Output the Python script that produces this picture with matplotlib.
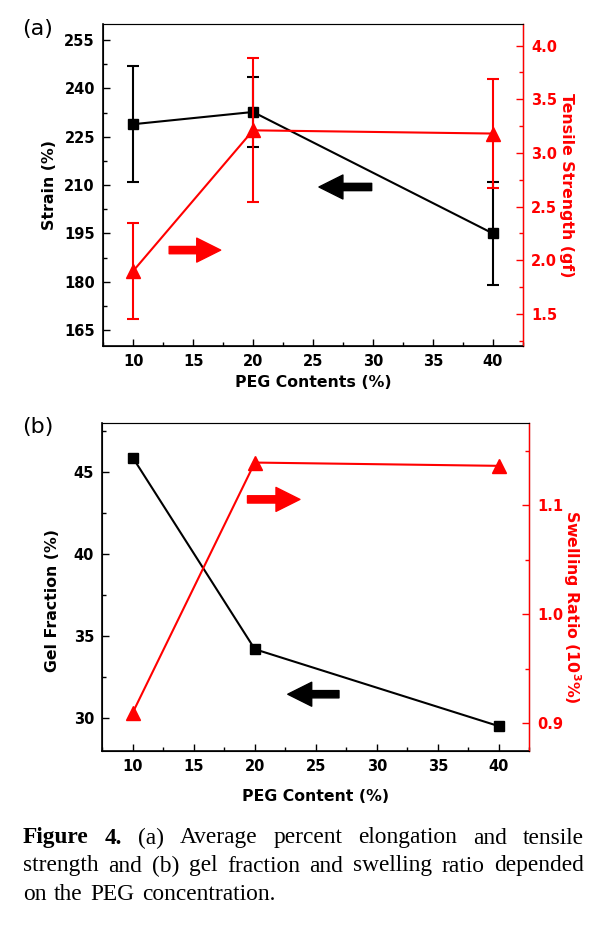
import matplotlib
matplotlib.use("Agg")
import matplotlib.pyplot as plt
from matplotlib.ticker import MultipleLocator

plt.rcParams["font.family"] = ["DejaVu Sans"]
plt.rcParams["mathtext.fontset"] = "dejavusans"

# ── data ──
peg = [10, 20, 40]
strain = [228.9, 232.7, 195.0]
strain_err = [18, 11, 16]
tensile = [1.90, 3.21, 3.18]
tensile_err = [0.45, 0.67, 0.51]

gel_fraction = [45.9, 34.2, 29.5]
swelling = [0.910, 1.139, 1.136]

RED = "#FF0000"
TICK_FS = 10.5
LABEL_FS = 11.3

fig = plt.figure(figsize=(6.05, 9.26), dpi=100)


def style_axes(ax, ax2):
    ax.xaxis.set_major_locator(MultipleLocator(5))
    ax.xaxis.set_minor_locator(MultipleLocator(2.5))
    ax.tick_params(axis="both", which="both", direction="in", width=1)
    ax.tick_params(axis="both", which="major", length=5, labelsize=TICK_FS, pad=6)
    ax.tick_params(axis="both", which="minor", length=3)
    ax.tick_params(axis="x", top=False, which="both")
    ax.tick_params(axis="y", right=False, which="both")
    for lab in ax.get_xticklabels() + ax.get_yticklabels():
        lab.set_fontweight("bold")
    for s in ["left", "bottom"]:
        ax.spines[s].set_linewidth(1.2)
    ax.spines["top"].set_color("#555555")
    ax2.spines["right"].set_color(RED)
    ax2.spines["right"].set_linewidth(1.0)
    ax2.tick_params(axis="y", which="both", direction="in", colors=RED, width=1)
    ax2.tick_params(axis="y", which="major", length=5, labelsize=TICK_FS, pad=6)
    ax2.tick_params(axis="y", which="minor", length=3)
    for lab in ax2.get_yticklabels():
        lab.set_fontweight("bold")


def arrow(ax, x0, x1, y, color):
    ax.annotate("", xy=(x1, y), xytext=(x0, y),
                arrowprops=dict(arrowstyle="simple,head_width=1.15,head_length=1.15,tail_width=0.35",
                                color=color, mutation_scale=15, shrinkA=0, shrinkB=0))


# ── (a) strain / tensile strength ──
ax = fig.add_axes([0.1707, 0.6263, 0.6932, 0.3477])
ax.errorbar(peg, strain, yerr=strain_err, color="black", marker="s", ms=7,
            lw=1.5, capsize=4, capthick=1.5, elinewidth=1.5)
ax.set_xlim(7.5, 42.5)
ax.set_ylim(160, 260)
ax.yaxis.set_major_locator(MultipleLocator(15))
ax.yaxis.set_minor_locator(MultipleLocator(7.5))
ax.set_yticks([165, 180, 195, 210, 225, 240, 255])
ax.set_xticks([10, 15, 20, 25, 30, 35, 40])
ax.set_xlabel("PEG Contents (%)", fontsize=LABEL_FS, fontweight="bold", labelpad=4)
ax.set_ylabel("Strain (%)", fontsize=LABEL_FS, fontweight="bold", labelpad=5)

ax2 = ax.twinx()
ax2.errorbar(peg, tensile, yerr=tensile_err, color=RED, marker="^", ms=10,
             lw=1.5, capsize=4, capthick=1.5, elinewidth=1.5)
ax2.set_ylim(1.2, 4.2)
ax2.yaxis.set_major_locator(MultipleLocator(0.5))
ax2.yaxis.set_minor_locator(MultipleLocator(0.25))
ax2.set_ylabel("Tensile Strength (gf)", fontsize=LABEL_FS, fontweight="bold",
               color=RED, rotation=270, labelpad=12)
style_axes(ax, ax2)
arrow(ax, 29.9, 25.5, 209.4, "black")
arrow(ax, 13.0, 17.3, 189.8, RED)
fig.text(0.036, 0.962, "(a)", fontsize=16)

# ── (b) gel fraction / swelling ratio ──
bx = fig.add_axes([0.1691, 0.1893, 0.7058, 0.3536])
bx.plot(peg, gel_fraction, color="black", marker="s", ms=7, lw=1.5)
bx.set_xlim(7.5, 42.5)
bx.set_ylim(28, 48)
bx.yaxis.set_major_locator(MultipleLocator(5))
bx.yaxis.set_minor_locator(MultipleLocator(2.5))
bx.set_xticks([10, 15, 20, 25, 30, 35, 40])
bx.set_xlabel("PEG Content (%)", fontsize=LABEL_FS, fontweight="bold", labelpad=11)
bx.set_ylabel("Gel Fraction (%)", fontsize=LABEL_FS, fontweight="bold")
bx.yaxis.set_label_coords(-0.099, 0.46)

bx2 = bx.twinx()
bx2.plot(peg, swelling, color=RED, marker="^", ms=10, lw=1.5)
bx2.set_ylim(0.875, 1.175)
bx2.yaxis.set_major_locator(MultipleLocator(0.1))
bx2.yaxis.set_minor_locator(MultipleLocator(0.05))
bx2.set_ylabel(r"Swelling Ratio (10$^\mathbf{3}$%)", fontsize=LABEL_FS, fontweight="bold",
               color=RED, rotation=270, va="center")
bx2.yaxis.set_label_coords(1.100, 0.44)
style_axes(bx, bx2)
arrow(bx, 19.4, 23.7, 43.35, RED)
arrow(bx, 26.9, 22.7, 31.45, "black")
fig.text(0.036, 0.532, "(b)", fontsize=16)

# ── caption, justified ──
cap_lines = [
    ["Figure", "4.", "(a)", "Average", "percent", "elongation", "and", "tensile"],
    ["strength", "and", "(b)", "gel", "fraction", "and", "swelling", "ratio", "depended"],
    ["on", "the", "PEG", "concentration."],
]
bold_words = {(0, 0), (0, 1)}
x_left, x_right = 23, 584
line_y = [838, 866, 894]
W, H = 605, 926

fig.canvas.draw()
renderer = fig.canvas.get_renderer()
for li, words in enumerate(cap_lines):
    texts = []
    for wi, w in enumerate(words):
        t = fig.text(0, 1 - line_y[li] / H, w, fontsize=16.8,
                     family=["Liberation Serif", "DejaVu Serif"],
                     fontweight="bold" if (li, wi) in bold_words else "normal",
                     va="center", ha="left")
        texts.append(t)
    widths = [t.get_window_extent(renderer).width for t in texts]
    if li < len(cap_lines) - 1:
        gap = (x_right - x_left - sum(widths)) / (len(words) - 1)
    else:
        gap = 7.5
    x = x_left
    for t, wd in zip(texts, widths):
        t.set_x(x / W)
        x += wd + gap

fig.savefig("out.png", dpi=100)
